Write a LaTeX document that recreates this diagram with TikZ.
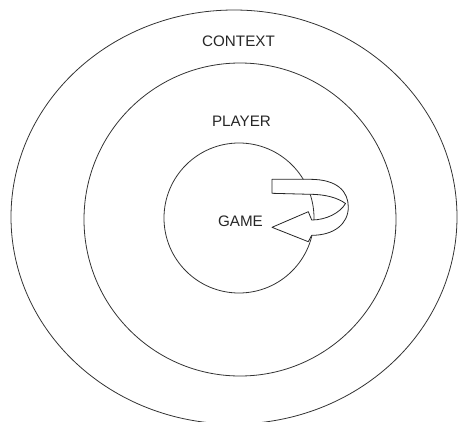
\documentclass[tikz,border=0pt]{standalone}
\usepackage{fontspec}
\setmainfont{Liberation Sans}
\usetikzlibrary{shapes.geometric, positioning}

\begin{document}
\begin{tikzpicture}[
  x=1pt, y=-1pt,
  ring/.style={ellipse, draw=black!80, line width=0.8pt, inner sep=0pt},
  lbl/.style={inner sep=0pt, font=\fontsize{15.2}{18}\selectfont, text=black!85},
  uturn/.style={draw=black!85, line width=0.8pt, fill=white, line join=round},
]
  \useasboundingbox (0,0) rectangle (458,421);

  % Nested rings
  \node[ring, minimum width=446pt, minimum height=414pt] (context) at (234,217) {};
  \node[ring, minimum width=312pt, minimum height=313pt] (player) at (240,219.5) {};
  \node[ring, minimum width=150pt, minimum height=150pt] (game) at (239,218) {};

  % Labels
  \node[lbl] (contextlbl) at (238.5,41.7) {CONTEXT};
  \node[lbl] (playerlbl) at (241.5,121.7) {PLAYER};
  \node[lbl] (gamelbl) at (240.5,221.7) {GAME};

  % U-turn arrow
  \draw[uturn] (272,179.3) -- (310,179.3)
    .. controls (338,179.3) and (348.3,192) .. (348.3,207)
    .. controls (348.3,224) and (334,235.3) .. (311.7,235.3)
    -- (308.3,241.7) -- (272,227.3) -- (308.3,211.7) -- (311.7,220)
    .. controls (326,220) and (340,213) .. (345.5,203.5)
    .. controls (338,198) and (326,194.3) .. (310,194.3)
    -- (272,193.3) -- cycle;

\end{tikzpicture}
\end{document}
